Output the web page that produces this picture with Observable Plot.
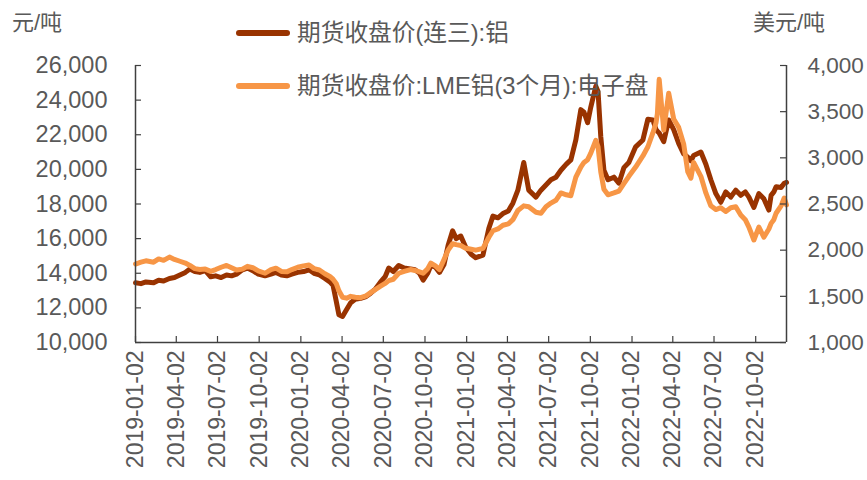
<!DOCTYPE html>
<html><head><meta charset="utf-8">
<script src="https://cdn.jsdelivr.net/npm/d3@7"></script>
<script src="https://cdn.jsdelivr.net/npm/@observablehq/plot@0.6"></script>
<style>
body{margin:0;background:#fff;}
#wrap{position:relative;width:867px;height:480px;font-family:"Liberation Sans","Noto Sans CJK SC",sans-serif;color:#595959;}
.unit{position:absolute;font-size:22px;line-height:26px;top:10px;white-space:nowrap;}
.legend{position:absolute;left:236px;font-size:23.7px;line-height:26px;display:flex;align-items:center;white-space:nowrap;}
.sw{display:inline-block;width:54px;height:6px;border-radius:3px;margin-right:7px;}
#chart{position:absolute;left:0;top:0;}
</style></head><body>
<div id="wrap">
  <div id="chart"></div>
  <div class="unit" style="left:12px">元/吨</div>
  <div class="unit" style="left:753px">美元/吨</div>
  <div class="legend" id="leg1" style="top:20px"></div>
  <div class="legend" id="leg2" style="top:73px"></div>
</div>
<script>
const seriesNames = ["期货收盘价(连三):铝", "期货收盘价:LME铝(3个月):电子盘"];
const seriesColors = ["#993300", "#F79646"];
const dates = ["2019-01-02","2019-01-14","2019-01-25","2019-02-11","2019-02-22","2019-03-05","2019-03-18","2019-03-29","2019-04-10","2019-04-22",
"2019-05-02","2019-05-13","2019-05-24","2019-06-05","2019-06-17","2019-06-28","2019-07-10","2019-07-22","2019-08-02","2019-08-13",
"2019-08-26","2019-09-06","2019-09-18","2019-09-30","2019-10-15","2019-10-28","2019-11-08","2019-11-20","2019-12-02","2019-12-13",
"2019-12-26","2020-01-08","2020-01-20","2020-01-31","2020-02-12","2020-02-24","2020-03-06","2020-03-13","2020-03-20","2020-03-26",
"2020-04-03","2020-04-12","2020-04-21","2020-05-01","2020-05-13","2020-05-25","2020-06-04","2020-06-15","2020-06-26","2020-07-06",
"2020-07-14","2020-07-24","2020-08-05","2020-08-17","2020-08-31","2020-09-10","2020-09-20","2020-09-28","2020-10-08","2020-10-15",
"2020-10-25","2020-11-03","2020-11-13","2020-11-22","2020-12-02","2020-12-10","2020-12-20","2020-12-31","2021-01-12","2021-01-22",
"2021-02-07","2021-02-20","2021-03-01","2021-03-12","2021-03-23","2021-04-04","2021-04-14","2021-04-25","2021-05-08","2021-05-19",
"2021-06-04","2021-06-15","2021-06-26","2021-07-07","2021-07-18","2021-07-29","2021-08-10","2021-08-20","2021-08-31","2021-09-11",
"2021-09-18","2021-09-26","2021-10-03","2021-10-14","2021-10-19","2021-10-25","2021-11-01","2021-11-10","2021-11-23","2021-12-04",
"2021-12-15","2021-12-26","2022-01-10","2022-01-26","2022-02-06","2022-02-17","2022-02-24","2022-02-27","2022-03-03","2022-03-13",
"2022-03-24","2022-04-04","2022-04-15","2022-04-26","2022-05-05","2022-05-12","2022-05-18","2022-06-03","2022-06-14","2022-06-25",
"2022-07-06","2022-07-17","2022-07-28","2022-08-08","2022-08-19","2022-08-30","2022-09-09","2022-09-17","2022-09-28","2022-10-09",
"2022-10-20","2022-10-31","2022-11-05","2022-11-11","2022-11-16","2022-11-27","2022-12-04","2022-12-09"];
const shfe = [13450,13400,13500,13450,13600,13550,13700,13750,13900,14050,
14250,14100,14050,14150,13800,13850,13750,13900,13850,13950,
14200,14300,14150,13950,13850,13950,14050,13900,13850,13950,
14050,14100,14200,14000,13900,13700,13500,13300,12400,11600,
11500,11900,12300,12500,12550,12650,12850,13100,13500,13800,
14300,14100,14450,14300,14250,14200,14000,13600,14000,14450,
14350,14050,14500,15600,16450,16000,16150,15500,15100,14900,
15050,16600,17300,17200,17450,17600,18050,18800,20400,18800,
18400,18800,19100,19400,19550,19950,20300,20550,21700,23450,
23300,22700,23600,24800,24500,21900,19950,19400,19550,19200,
20100,20400,21300,21700,22900,22850,22300,22200,22100,21600,
22850,22300,21500,20900,20700,20500,20800,21000,20300,19400,
18600,18100,18700,18400,18800,18500,18700,18400,17800,18600,
18300,17650,18500,18700,19000,18950,19200,19250];
const lme = [1850,1870,1885,1870,1905,1890,1925,1900,1880,1860,
1835,1800,1790,1795,1770,1790,1815,1835,1810,1785,
1795,1825,1810,1775,1750,1790,1805,1770,1765,1790,
1815,1830,1840,1800,1785,1745,1715,1685,1640,1560,
1490,1480,1500,1490,1485,1505,1540,1575,1610,1640,
1670,1685,1750,1770,1790,1780,1765,1750,1800,1860,
1830,1790,1900,2000,2070,2060,2050,2020,2010,2000,
2020,2140,2210,2230,2270,2285,2330,2430,2480,2470,
2410,2400,2470,2510,2540,2620,2600,2590,2790,2900,
2950,2980,3050,3190,3120,2850,2660,2600,2620,2640,
2720,2800,2900,3020,3120,3270,3380,3480,3850,3300,
3700,3420,3330,3150,2850,2780,2950,2800,2620,2480,
2440,2460,2420,2460,2470,2380,2330,2250,2110,2250,
2140,2230,2290,2330,2400,2480,2565,2490];
const leftTicks = [10000,12000,14000,16000,18000,20000,22000,24000,26000];
const rightTicks = [1000,1500,2000,2500,3000,3500,4000];
const xTickLabels = ["2019-01-02","2019-04-02","2019-07-02","2019-10-02","2020-01-02","2020-04-02","2020-07-02","2020-10-02",
"2021-01-02","2021-04-02","2021-07-02","2021-10-02","2022-01-02","2022-04-02","2022-07-02","2022-10-02"];

const W = 867, H = 480, mL = 135, mR = 81, mT = 65, mB = 138;
const plotW = W - mL - mR, plotH = H - mT - mB;
const toLeft = v => 10000 + (v - 1000) * 16000 / 3000;
const fromLeft = v => 1000 + (v - 10000) * 3000 / 16000;
const rows = dates.map((d, i) => ({date: new Date(d), shfe: shfe[i], lme: toLeft(lme[i])}));
const x0 = new Date(dates[0]), x1 = new Date(dates[dates.length - 1]);
const xTicks = xTickLabels.map(d => new Date(d));
const axisColor = "#404040";

const chart = Plot.plot({
  width: W, height: H, marginLeft: mL, marginRight: mR, marginTop: mT, marginBottom: mB,
  style: {fontFamily: '"Liberation Sans","Noto Sans CJK SC",sans-serif', color: "#595959", background: "transparent", overflow: "visible"},
  x: {type: "utc", domain: [x0, x1]},
  y: {domain: [10000, 26000]},
  marks: [
    Plot.lineY(rows, {x: "date", y: "shfe", stroke: seriesColors[0], strokeWidth: 5}),
    Plot.lineY(rows, {x: "date", y: "lme", stroke: seriesColors[1], strokeWidth: 5}),
    Plot.ruleX([x0], {stroke: axisColor, strokeWidth: 1.5}),
    Plot.ruleX([x1], {stroke: axisColor, strokeWidth: 1.5}),
    Plot.ruleY([10000], {stroke: axisColor, strokeWidth: 1.5}),
    Plot.tickY(leftTicks, {y: d => d, insetRight: plotW - 6, stroke: axisColor, strokeWidth: 1.2}),
    Plot.tickY(rightTicks.map(toLeft), {y: d => d, insetLeft: plotW - 6, stroke: axisColor, strokeWidth: 1.2}),
    Plot.tickX(xTicks, {x: d => d, insetTop: plotH - 6, stroke: axisColor, strokeWidth: 1.2}),
    Plot.axisY(leftTicks, {anchor: "left", tickSize: 0, tickPadding: 28, tickFormat: d3.format(","), fontSize: 23.5, label: null}),
    Plot.axisY(rightTicks.map(toLeft), {anchor: "right", tickSize: 0, tickPadding: 21, tickFormat: d => d3.format(",")(Math.round(fromLeft(d))), fontSize: 22.5, label: null}),
    Plot.axisX(xTicks, {anchor: "bottom", tickSize: 0, tickRotate: -90, tickPadding: 8, tickFormat: d3.utcFormat("%Y-%m-%d"), fontSize: 23, label: null})
  ]
});
document.getElementById("chart").appendChild(chart);

["leg1", "leg2"].forEach((id, i) => {
  const el = document.getElementById(id);
  const sw = document.createElement("span");
  sw.className = "sw";
  sw.style.background = seriesColors[i];
  el.appendChild(sw);
  el.appendChild(document.createTextNode(seriesNames[i]));
});
</script>
</body></html>
